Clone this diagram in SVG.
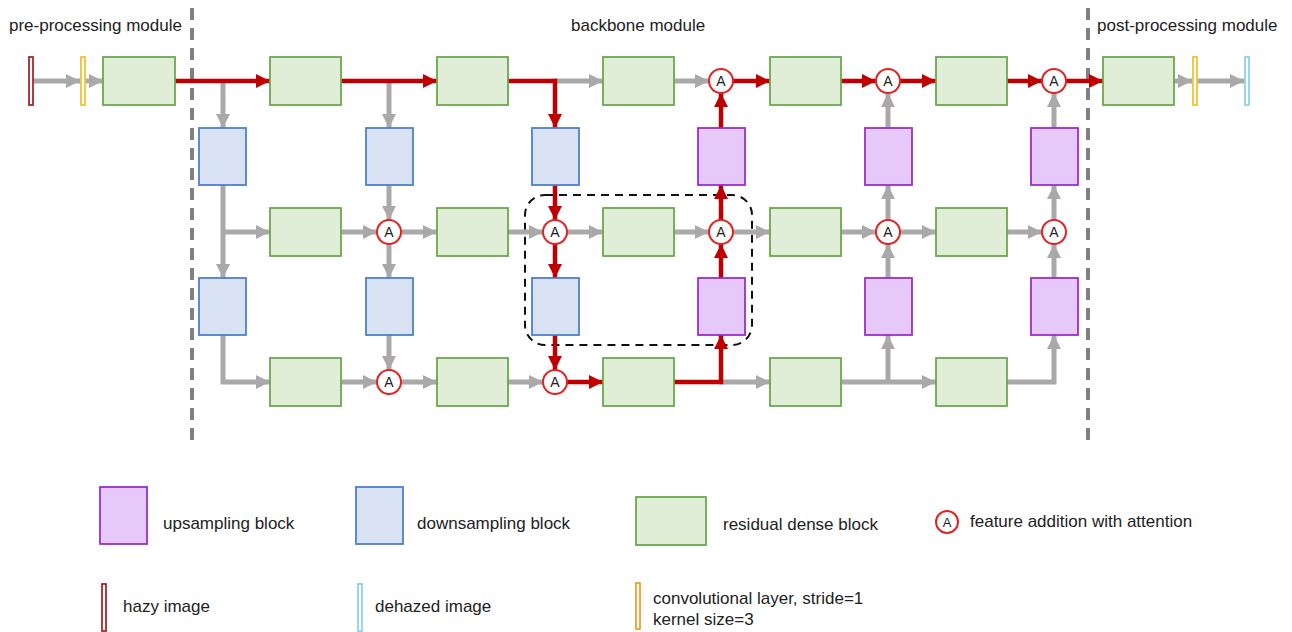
<svg xmlns="http://www.w3.org/2000/svg" width="1292" height="632" viewBox="0 0 1292 632">
<style>
.t{font-family:"Liberation Sans",Arial,sans-serif;fill:#222}
.h{font-size:17px}
.l{font-size:17px}
.g{fill:#e0eed8;stroke:#6aa84f;stroke-width:1.8}
.b{fill:#d9e2f3;stroke:#4f7fcf;stroke-width:1.8}
.p{fill:#e6c9f9;stroke:#9a2fc9;stroke-width:1.8}
.ac{fill:#fff;stroke:#e02424;stroke-width:2}
.at{font-family:"Liberation Sans",Arial,sans-serif;font-size:14px;fill:#222;text-anchor:middle}
.gy{fill:none;stroke:#aaa8a8;stroke-width:5;marker-end:url(#mg)}
.gn{fill:none;stroke:#aaa8a8;stroke-width:5}
.rd{fill:none;stroke:#c00000;stroke-width:4.5;marker-end:url(#mr)}
.rn{fill:none;stroke:#c00000;stroke-width:4.5}
.dv{stroke:#808080;stroke-width:4;stroke-dasharray:12 8}
</style>
<defs>
<marker id="mg" markerUnits="userSpaceOnUse" markerWidth="14" markerHeight="14" refX="14" refY="7" orient="auto"><path d="M0,0L14,7L0,14z" fill="#aaa8a8"/></marker>
<marker id="mr" markerUnits="userSpaceOnUse" markerWidth="14" markerHeight="14" refX="14" refY="7" orient="auto"><path d="M0,0L14,7L0,14z" fill="#c00000"/></marker>
</defs>
<rect width="1292" height="632" fill="#fff"/>
<g id="labels">
<text class="t h" x="9" y="31">pre-processing module</text>
<text class="t h" x="571" y="31">backbone module</text>
<text class="t h" x="1097" y="31">post-processing module</text>
</g>
<g id="separators">
<line class="dv" x1="192" y1="8" x2="192" y2="440"/>
<line class="dv" x1="1088" y1="8" x2="1088" y2="440"/>
<rect x="525" y="195" width="227" height="150" rx="20" fill="none" stroke="#111" stroke-width="2" stroke-dasharray="8 6"/>
</g>
<g id="connectors">
<line class="gy" x1="33" y1="81" x2="80" y2="81"/>
<line class="gy" x1="86" y1="81" x2="103" y2="81"/>
<line class="gy" x1="223" y1="81" x2="223" y2="128"/>
<line class="rd" x1="175" y1="81" x2="270" y2="81"/>
<line class="gy" x1="389" y1="81" x2="389" y2="128"/>
<line class="rd" x1="341" y1="81" x2="437" y2="81"/>
<line class="gy" x1="553" y1="81" x2="603" y2="81"/>
<polyline class="rd" points="508,81 555,81 555,128"/>
<line class="gy" x1="674" y1="81" x2="709" y2="81"/>
<line class="rd" x1="733" y1="81" x2="770" y2="81"/>
<line class="rd" x1="841" y1="81" x2="876" y2="81"/>
<line class="rd" x1="900" y1="81" x2="936" y2="81"/>
<line class="rd" x1="1007" y1="81" x2="1042" y2="81"/>
<line class="rd" x1="1066" y1="81" x2="1103" y2="81"/>
<line class="gy" x1="1174" y1="81" x2="1192" y2="81"/>
<line class="gy" x1="1197" y1="81" x2="1244" y2="81"/>
<line class="rd" x1="721" y1="128" x2="721" y2="93"/>
<line class="gy" x1="888" y1="128" x2="888" y2="93"/>
<line class="gy" x1="1054" y1="128" x2="1054" y2="93"/>
<line class="gy" x1="223" y1="185" x2="223" y2="278"/>
<line class="gy" x1="223" y1="232" x2="270" y2="232"/>
<line class="gy" x1="341" y1="232" x2="377" y2="232"/>
<line class="gy" x1="389" y1="185" x2="389" y2="220"/>
<line class="gy" x1="401" y1="232" x2="437" y2="232"/>
<line class="gy" x1="389" y1="244" x2="389" y2="278"/>
<line class="rd" x1="555" y1="185" x2="555" y2="220"/>
<line class="gy" x1="508" y1="232" x2="543" y2="232"/>
<line class="gy" x1="567" y1="232" x2="603" y2="232"/>
<line class="rd" x1="555" y1="244" x2="555" y2="278"/>
<line class="gy" x1="674" y1="232" x2="709" y2="232"/>
<line class="gy" x1="733" y1="232" x2="770" y2="232"/>
<line class="rd" x1="721" y1="220" x2="721" y2="185"/>
<line class="rd" x1="721" y1="278" x2="721" y2="244"/>
<line class="gy" x1="841" y1="232" x2="876" y2="232"/>
<line class="gy" x1="900" y1="232" x2="936" y2="232"/>
<line class="gy" x1="888" y1="220" x2="888" y2="185"/>
<line class="gy" x1="888" y1="278" x2="888" y2="244"/>
<line class="gy" x1="1007" y1="232" x2="1042" y2="232"/>
<line class="gy" x1="1054" y1="220" x2="1054" y2="185"/>
<line class="gy" x1="1054" y1="278" x2="1054" y2="244"/>
<polyline class="gy" points="223,335 223,382 270,382"/>
<line class="gy" x1="341" y1="382" x2="377" y2="382"/>
<line class="gy" x1="389" y1="335" x2="389" y2="370"/>
<line class="gy" x1="401" y1="382" x2="437" y2="382"/>
<line class="rd" x1="555" y1="335" x2="555" y2="370"/>
<line class="gy" x1="508" y1="382" x2="543" y2="382"/>
<line class="rd" x1="567" y1="382" x2="603" y2="382"/>
<line class="gy" x1="719" y1="382" x2="770" y2="382"/>
<polyline class="rd" points="674,382 721,382 721,335"/>
<line class="gy" x1="841" y1="382" x2="936" y2="382"/>
<line class="gy" x1="888" y1="382" x2="888" y2="335"/>
<polyline class="gy" points="1007,382 1054,382 1054,335"/>
</g>
<g id="hazy"><rect x="29" y="57" width="4" height="48" fill="#fff" stroke="#a52a2a" stroke-width="1.8"/></g>
<g id="conv-pre"><rect x="81" y="57" width="4" height="48" fill="#fff" stroke="#f1c232" stroke-width="1.8"/></g>
<g id="rdb-pre"><rect class="g" x="103" y="57" width="72" height="48"/></g>
<g id="rdb-post"><rect class="g" x="1103" y="57" width="71" height="48"/></g>
<g id="conv-post"><rect x="1193" y="57" width="4" height="48" fill="#fff" stroke="#f1c232" stroke-width="1.8"/></g>
<g id="dehazed"><rect x="1245" y="57" width="4" height="48" fill="#fff" stroke="#8fd0ec" stroke-width="1.8"/></g>
<g id="rdb-t1"><rect class="g" x="270" y="57" width="71" height="48"/></g>
<g id="rdb-t2"><rect class="g" x="437" y="57" width="71" height="48"/></g>
<g id="rdb-t3"><rect class="g" x="603" y="57" width="71" height="48"/></g>
<g id="rdb-t4"><rect class="g" x="770" y="57" width="71" height="48"/></g>
<g id="rdb-t5"><rect class="g" x="936" y="57" width="71" height="48"/></g>
<g id="rdb-m1"><rect class="g" x="270" y="208" width="71" height="48"/></g>
<g id="rdb-m2"><rect class="g" x="437" y="208" width="71" height="48"/></g>
<g id="rdb-m3"><rect class="g" x="603" y="208" width="71" height="48"/></g>
<g id="rdb-m4"><rect class="g" x="770" y="208" width="71" height="48"/></g>
<g id="rdb-m5"><rect class="g" x="936" y="208" width="71" height="48"/></g>
<g id="rdb-b1"><rect class="g" x="270" y="358" width="71" height="48"/></g>
<g id="rdb-b2"><rect class="g" x="437" y="358" width="71" height="48"/></g>
<g id="rdb-b3"><rect class="g" x="603" y="358" width="71" height="48"/></g>
<g id="rdb-b4"><rect class="g" x="770" y="358" width="71" height="48"/></g>
<g id="rdb-b5"><rect class="g" x="936" y="358" width="71" height="48"/></g>
<g id="down-1a"><rect class="b" x="199" y="128" width="47" height="57"/></g>
<g id="down-2a"><rect class="b" x="366" y="128" width="47" height="57"/></g>
<g id="down-3a"><rect class="b" x="532" y="128" width="47" height="57"/></g>
<g id="down-1b"><rect class="b" x="199" y="278" width="47" height="57"/></g>
<g id="down-2b"><rect class="b" x="366" y="278" width="47" height="57"/></g>
<g id="down-3b"><rect class="b" x="532" y="278" width="47" height="57"/></g>
<g id="up-1a"><rect class="p" x="698" y="128" width="47" height="57"/></g>
<g id="up-2a"><rect class="p" x="865" y="128" width="47" height="57"/></g>
<g id="up-3a"><rect class="p" x="1031" y="128" width="47" height="57"/></g>
<g id="up-1b"><rect class="p" x="698" y="278" width="47" height="57"/></g>
<g id="up-2b"><rect class="p" x="865" y="278" width="47" height="57"/></g>
<g id="up-3b"><rect class="p" x="1031" y="278" width="47" height="57"/></g>
<g id="att-t1"><circle class="ac" cx="721" cy="81" r="12"/><text class="at" x="721" y="86">A</text></g>
<g id="att-t2"><circle class="ac" cx="888" cy="81" r="12"/><text class="at" x="888" y="86">A</text></g>
<g id="att-t3"><circle class="ac" cx="1054" cy="81" r="12"/><text class="at" x="1054" y="86">A</text></g>
<g id="att-m1"><circle class="ac" cx="389" cy="232" r="12"/><text class="at" x="389" y="237">A</text></g>
<g id="att-m2"><circle class="ac" cx="555" cy="232" r="12"/><text class="at" x="555" y="237">A</text></g>
<g id="att-m3"><circle class="ac" cx="721" cy="232" r="12"/><text class="at" x="721" y="237">A</text></g>
<g id="att-m4"><circle class="ac" cx="888" cy="232" r="12"/><text class="at" x="888" y="237">A</text></g>
<g id="att-m5"><circle class="ac" cx="1054" cy="232" r="12"/><text class="at" x="1054" y="237">A</text></g>
<g id="att-b1"><circle class="ac" cx="389" cy="382" r="12"/><text class="at" x="389" y="387">A</text></g>
<g id="att-b2"><circle class="ac" cx="555" cy="382" r="12"/><text class="at" x="555" y="387">A</text></g>
<g id="legend">
<rect class="p" x="100" y="487" width="47" height="57"/>
<text class="t l" x="163" y="529">upsampling block</text>
<rect class="b" x="356" y="487" width="47" height="57"/>
<text class="t l" x="417" y="529">downsampling block</text>
<rect class="g" x="636" y="497" width="70" height="48"/>
<text class="t l" x="723" y="530">residual dense block</text>
<circle class="ac" cx="947" cy="522" r="11"/><text class="at" x="947" y="527" style="font-size:13px">A</text>
<text class="t l" x="970" y="527">feature addition with attention</text>
<rect x="102" y="584" width="4" height="47" fill="#fff" stroke="#a52a2a" stroke-width="1.8"/>
<text class="t l" x="123" y="612">hazy image</text>
<rect x="358" y="584" width="4" height="47" fill="#fff" stroke="#8fd0ec" stroke-width="1.8"/>
<text class="t l" x="375" y="612">dehazed image</text>
<rect x="636" y="583" width="4" height="46" fill="#fff" stroke="#f0a030" stroke-width="1.8"/>
<text class="t l" x="653" y="604">convolutional layer, stride=1</text>
<text class="t l" x="653" y="625">kernel size=3</text>
</g>
</svg>
